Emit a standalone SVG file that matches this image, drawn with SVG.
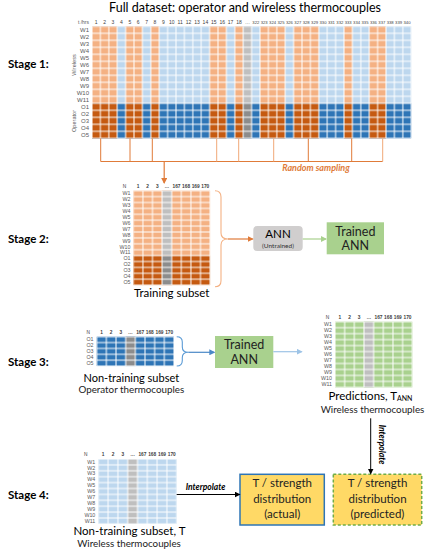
<svg xmlns="http://www.w3.org/2000/svg" width="426" height="550" viewBox="0 0 426 550">
<style>
.stage{font-family:Lato,"Liberation Sans",sans-serif;font-weight:bold;font-size:11.5px;fill:#000}
.title{font-family:Lato,"Liberation Sans",sans-serif;font-size:12.5px;fill:#000}
.lbl{font-family:Lato,"Liberation Sans",sans-serif;font-size:11px;fill:#000}
.sub{font-family:Lato,"Liberation Sans",sans-serif;font-size:9.8px;fill:#222}
.rl{font-family:"Liberation Sans",Arial,sans-serif;font-size:5.6px;fill:#595959;text-anchor:end}
.hd{font-family:"Liberation Sans",Arial,sans-serif;font-size:4.8px;fill:#404040;text-anchor:middle;font-weight:bold}
.rot{font-family:"Liberation Sans",Arial,sans-serif;font-size:5.6px;fill:#595959;text-anchor:middle}
.interp{font-family:Lato,"Liberation Sans",sans-serif;font-size:8.5px;font-weight:bold;font-style:italic;fill:#000}
.box{font-family:Lato,"Liberation Sans",sans-serif;font-size:11.5px;fill:#222;text-anchor:middle}
</style>
<defs>
<pattern id="g1" patternUnits="userSpaceOnUse" x="92" y="26.3" width="8.4" height="7"><path d="M0 0H8.4V7H0Z" fill="none" stroke="#fff" stroke-width="1"/></pattern>
<pattern id="g2" patternUnits="userSpaceOnUse" x="133.3" y="190.7" width="9.6" height="5.9"><path d="M0 0H9.6V5.9H0Z" fill="none" stroke="#fff" stroke-width="1"/></pattern>
<pattern id="g3" patternUnits="userSpaceOnUse" x="96.7" y="336.7" width="9.66" height="5.87"><path d="M0 0H9.66V5.87H0Z" fill="none" stroke="#fff" stroke-width="1"/></pattern>
<pattern id="g4" patternUnits="userSpaceOnUse" x="335" y="321.7" width="9.66" height="5.97"><path d="M0 0H9.66V5.97H0Z" fill="none" stroke="#fff" stroke-width="1"/></pattern>
<pattern id="g5" patternUnits="userSpaceOnUse" x="98.3" y="459" width="9.8" height="5.9"><path d="M0 0H9.8V5.9H0Z" fill="none" stroke="#fff" stroke-width="1"/></pattern>
<marker id="aO" markerWidth="6" markerHeight="6" refX="5" refY="3" orient="auto" markerUnits="userSpaceOnUse"><path d="M0 0L6 3L0 6Z" fill="#E07B39"/></marker>
<marker id="aB" markerWidth="6" markerHeight="6" refX="5" refY="3" orient="auto" markerUnits="userSpaceOnUse"><path d="M0 0L6 3L0 6Z" fill="#4A88C7"/></marker>
<marker id="aLB" markerWidth="6" markerHeight="6" refX="5" refY="3" orient="auto" markerUnits="userSpaceOnUse"><path d="M0 0L6 3L0 6Z" fill="#9DC3E6"/></marker>
<marker id="aG" markerWidth="6" markerHeight="6" refX="5" refY="3" orient="auto" markerUnits="userSpaceOnUse"><path d="M0 0L6 3L0 6Z" fill="#A9D18E"/></marker>
<marker id="aK" markerWidth="6" markerHeight="6" refX="5" refY="3" orient="auto" markerUnits="userSpaceOnUse"><path d="M0 0L6 3L0 6Z" fill="#000"/></marker>
</defs>
<rect width="426" height="550" fill="#fff"/>

<!-- Stage labels -->
<text class="stage" x="8" y="68">Stage 1:</text>
<text class="stage" x="8" y="243">Stage 2:</text>
<text class="stage" x="8" y="366">Stage 3:</text>
<text class="stage" x="8" y="499">Stage 4:</text>

<!-- Stage 1: full dataset -->
<g id="full-dataset">
<text class="title" x="245" y="12" text-anchor="middle">Full dataset: operator and wireless thermocouples</text>
<rect x="92" y="26.3" width="319.2" height="77" fill="#BDD7EE"/>
<rect x="92" y="103.3" width="319.2" height="35" fill="#2E75B6"/>
<g fill="#F4B183">
<rect x="92" y="26.3" width="25.2" height="77"/><rect x="125.6" y="26.3" width="16.8" height="77"/><rect x="150.8" y="26.3" width="8.4" height="77"/><rect x="209.6" y="26.3" width="16.8" height="77"/><rect x="234.8" y="26.3" width="8.4" height="77"/><rect x="260" y="26.3" width="25.2" height="77"/><rect x="293.6" y="26.3" width="25.2" height="77"/><rect x="344" y="26.3" width="8.4" height="77"/><rect x="369.2" y="26.3" width="16.8" height="77"/>
</g>
<g fill="#C55A11">
<rect x="92" y="103.3" width="25.2" height="35"/><rect x="125.6" y="103.3" width="16.8" height="35"/><rect x="150.8" y="103.3" width="8.4" height="35"/><rect x="209.6" y="103.3" width="16.8" height="35"/><rect x="234.8" y="103.3" width="8.4" height="35"/><rect x="260" y="103.3" width="25.2" height="35"/><rect x="293.6" y="103.3" width="25.2" height="35"/><rect x="344" y="103.3" width="8.4" height="35"/><rect x="369.2" y="103.3" width="16.8" height="35"/>
</g>
<rect x="243.2" y="26.3" width="8.4" height="77" fill="#BFBFBF"/>
<rect x="243.2" y="103.3" width="8.4" height="35" fill="#8C8C8C"/>
<rect x="92" y="26.3" width="319.2" height="112" fill="url(#g1)"/>
<text class="rl" x="89" y="23.5" style="font-size:5px">t /hrs</text>
<g class="hd" style="font-weight:normal;font-size:5px">
<text x="96.2" y="23.5">1</text><text x="104.6" y="23.5">2</text><text x="113" y="23.5">3</text><text x="121.4" y="23.5">4</text><text x="129.8" y="23.5">5</text><text x="138.2" y="23.5">6</text><text x="146.6" y="23.5">7</text><text x="155" y="23.5">8</text><text x="163.4" y="23.5">9</text><text x="171.8" y="23.5">10</text><text x="180.2" y="23.5">11</text><text x="188.6" y="23.5">12</text><text x="197" y="23.5">13</text><text x="205.4" y="23.5">14</text><text x="213.8" y="23.5">15</text><text x="222.2" y="23.5">16</text><text x="230.6" y="23.5">17</text><text x="239" y="23.5">18</text><text x="247.4" y="23.5">…</text>
</g>
<g class="hd" style="font-weight:normal;font-size:4.2px">
<text x="255.8" y="23.5">322</text><text x="264.2" y="23.5">323</text><text x="272.6" y="23.5">324</text><text x="281" y="23.5">325</text><text x="289.4" y="23.5">326</text><text x="297.8" y="23.5">327</text><text x="306.2" y="23.5">328</text><text x="314.6" y="23.5">329</text><text x="323" y="23.5">330</text><text x="331.4" y="23.5">331</text><text x="339.8" y="23.5">332</text><text x="348.2" y="23.5">333</text><text x="356.6" y="23.5">334</text><text x="365" y="23.5">335</text><text x="373.4" y="23.5">336</text><text x="381.8" y="23.5">337</text><text x="390.2" y="23.5">338</text><text x="398.6" y="23.5">339</text><text x="407" y="23.5">340</text>
</g>
<g class="rl" style="font-size:6px">
<text x="89" y="31.8">W1</text><text x="89" y="38.8">W2</text><text x="89" y="45.8">W3</text><text x="89" y="52.8">W4</text><text x="89" y="59.8">W5</text><text x="89" y="66.8">W6</text><text x="89" y="73.8">W7</text><text x="89" y="80.8">W8</text><text x="89" y="87.8">W9</text><text x="89" y="94.8">W10</text><text x="89" y="101.8">W11</text><text x="89" y="108.8">O1</text><text x="89" y="115.8">O2</text><text x="89" y="122.8">O3</text><text x="89" y="129.8">O4</text><text x="89" y="136.8">O5</text>
</g>
<text class="rot" transform="translate(76 65) rotate(-90)">Wireless</text>
<text class="rot" transform="translate(76 121) rotate(-90)">Operator</text>
</g>

<!-- Stage 2 -->
<g id="training-subset">
<rect x="133.3" y="190.7" width="76.8" height="64.9" fill="#F4B183"/>
<rect x="133.3" y="255.6" width="76.8" height="29.5" fill="#C55A11"/>
<rect x="162.1" y="190.7" width="9.6" height="64.9" fill="#BFBFBF"/>
<rect x="162.1" y="255.6" width="9.6" height="29.5" fill="#8C8C8C"/>
<rect x="133.3" y="190.7" width="76.8" height="94.4" fill="url(#g2)"/>
<g class="hd">
<text x="124.5" y="188.3" style="font-weight:normal">N</text><text x="138.1" y="188.3">1</text><text x="147.7" y="188.3">2</text><text x="157.3" y="188.3">3</text><text x="166.9" y="188.3">…</text><text x="176.5" y="188.3">167</text><text x="186.1" y="188.3">168</text><text x="195.7" y="188.3">169</text><text x="205.3" y="188.3">170</text>
</g>
<g class="rl" style="font-size:5.3px">
<text x="130.5" y="195.4">W1</text><text x="130.5" y="201.3">W2</text><text x="130.5" y="207.2">W3</text><text x="130.5" y="213.1">W4</text><text x="130.5" y="219">W5</text><text x="130.5" y="224.9">W6</text><text x="130.5" y="230.8">W7</text><text x="130.5" y="236.7">W8</text><text x="130.5" y="242.6">W9</text><text x="130.5" y="248.5">W10</text><text x="130.5" y="254.4">W11</text><text x="130.5" y="260.3">O1</text><text x="130.5" y="266.2">O2</text><text x="130.5" y="272.1">O3</text><text x="130.5" y="278">O4</text><text x="130.5" y="283.9">O5</text>
</g>
<text class="lbl" x="171.7" y="297" text-anchor="middle" style="font-size:11.5px">Training subset</text>
</g>

<g id="ann-untrained">
<rect x="253.3" y="226" width="49.4" height="25" rx="4" fill="#D0CECE"/>
<text x="278" y="238" text-anchor="middle" style="font-family:Lato,'Liberation Sans',sans-serif;font-size:11.5px">ANN</text>
<text x="278" y="248.3" text-anchor="middle" style="font-family:Lato,'Liberation Sans',sans-serif;font-size:6.5px;fill:#333">(Untrained)</text>
</g>

<g id="trained-ann-2">
<rect x="326.7" y="222.3" width="57.3" height="32" fill="#A9D18E"/>
<text class="box" x="355.3" y="235.5" style="font-size:12.5px">Trained</text>
<text class="box" x="355.3" y="250" style="font-size:12.5px">ANN</text>
</g>

<!-- Stage 3 -->
<g id="non-training-operator">
<rect x="96.7" y="336.7" width="77.3" height="29.35" fill="#2E75B6"/>
<rect x="125.7" y="336.7" width="9.66" height="29.35" fill="#8C8C8C"/>
<rect x="96.7" y="336.7" width="77.3" height="29.35" fill="url(#g3)"/>
<g class="hd">
<text x="88.3" y="334.3" style="font-weight:normal">N</text><text x="101.5" y="334.3">1</text><text x="111.2" y="334.3">2</text><text x="120.8" y="334.3">3</text><text x="130.5" y="334.3">…</text><text x="140.2" y="334.3">167</text><text x="149.8" y="334.3">168</text><text x="159.5" y="334.3">169</text><text x="169.2" y="334.3">170</text>
</g>
<g class="rl" style="font-size:5.3px">
<text x="93.5" y="341.3">O1</text><text x="93.5" y="347.2">O2</text><text x="93.5" y="353.1">O3</text><text x="93.5" y="358.9">O4</text><text x="93.5" y="364.8">O5</text>
</g>
<text class="lbl" x="131.3" y="381.5" text-anchor="middle">Non-training subset</text>
<text class="sub" x="131.3" y="392.5" text-anchor="middle">Operator thermocouples</text>
</g>

<g id="trained-ann-3">
<rect x="215" y="336" width="58.3" height="32" fill="#A9D18E"/>
<text class="box" x="244.2" y="349.3" style="font-size:12.5px">Trained</text>
<text class="box" x="244.2" y="364" style="font-size:12.5px">ANN</text>
</g>

<g id="predictions">
<rect x="335" y="321.7" width="77.3" height="65.7" fill="#A9D18E"/>
<rect x="363.98" y="321.7" width="9.66" height="65.7" fill="#BFBFBF"/>
<rect x="335" y="321.7" width="77.3" height="65.7" fill="url(#g4)"/>
<g class="hd">
<text x="327.5" y="319.3" style="font-weight:normal">N</text><text x="339.8" y="319.3">1</text><text x="349.5" y="319.3">2</text><text x="359.2" y="319.3">3</text><text x="368.8" y="319.3">…</text><text x="378.5" y="319.3">167</text><text x="388.1" y="319.3">168</text><text x="397.8" y="319.3">169</text><text x="407.5" y="319.3">170</text>
</g>
<g class="rl" style="font-size:5.3px">
<text x="332" y="326.4">W1</text><text x="332" y="332.3">W2</text><text x="332" y="338.3">W3</text><text x="332" y="344.3">W4</text><text x="332" y="350.3">W5</text><text x="332" y="356.3">W6</text><text x="332" y="362.2">W7</text><text x="332" y="368.2">W8</text><text x="332" y="374.2">W9</text><text x="332" y="380.1">W10</text><text x="332" y="386.1">W11</text>
</g>
<text class="lbl" x="370.5" y="399.5" text-anchor="middle" style="font-size:11.5px">Predictions, T<tspan style="font-size:7px" dy="1.5">ANN</tspan></text>
<text class="sub" x="372.5" y="412.5" text-anchor="middle">Wireless thermocouples</text>
</g>

<!-- Stage 4 -->
<g id="non-training-wireless">
<rect x="98.3" y="459" width="78.4" height="64.9" fill="#BDD7EE"/>
<rect x="127.7" y="459" width="9.8" height="64.9" fill="#BFBFBF"/>
<rect x="98.3" y="459" width="78.4" height="64.9" fill="url(#g5)"/>
<g class="hd">
<text x="85.8" y="456.3" style="font-weight:normal">N</text><text x="103.2" y="456.3">1</text><text x="113" y="456.3">2</text><text x="122.8" y="456.3">3</text><text x="132.6" y="456.3">…</text><text x="142.4" y="456.3">167</text><text x="152.2" y="456.3">168</text><text x="162" y="456.3">169</text><text x="171.8" y="456.3">170</text>
</g>
<g class="rl" style="font-size:5.3px">
<text x="95.3" y="463.6">W1</text><text x="95.3" y="469.5">W2</text><text x="95.3" y="475.4">W3</text><text x="95.3" y="481.3">W4</text><text x="95.3" y="487.2">W5</text><text x="95.3" y="493.1">W6</text><text x="95.3" y="499">W7</text><text x="95.3" y="504.9">W8</text><text x="95.3" y="510.8">W9</text><text x="95.3" y="516.7">W10</text><text x="95.3" y="522.6">W11</text>
</g>
<text class="lbl" x="129.5" y="535" text-anchor="middle" style="font-size:11.5px">Non-training subset, T</text>
<text class="sub" x="129" y="547" text-anchor="middle">Wireless thermocouples</text>
</g>

<g id="dist-actual">
<rect x="240" y="474.3" width="84.3" height="50.7" fill="#FFD966" stroke="#2E75B6" stroke-width="1.5"/>
<text class="box" x="282.2" y="487">T / strength</text>
<text class="box" x="282.2" y="502.5">distribution</text>
<text class="box" x="282.2" y="518">(actual)</text>
</g>

<g id="dist-predicted">
<rect x="333.3" y="474.3" width="88.4" height="50.7" fill="#FFD966" stroke="#70AD47" stroke-width="1.5" stroke-dasharray="3 2"/>
<text class="box" x="377.5" y="487">T / strength</text>
<text class="box" x="377.5" y="502.5">distribution</text>
<text class="box" x="377.5" y="518">(predicted)</text>
</g>

<!-- Connectors -->
<g id="connectors" fill="none">
<path d="M100.7 138.5V161.5M130 138.5V161.5M152.3 138.5V161.5M308.3 138.5V161.5M351.7 138.5V161.5M100.7 161.5H382.7" stroke="#E07B39" stroke-width="1"/>
<path d="M216.7 138.5V161.5M238.7 138.5V161.5M273.7 138.5V161.5M382.7 138.5V161.5" stroke="#F0A878" stroke-width="1"/>
<path d="M164.2 161.5V183" stroke="#E07B39" stroke-width="1.2" marker-end="url(#aO)"/>
<text x="316" y="171" text-anchor="middle" style="font-family:Lato,'Liberation Sans',sans-serif;font-size:9px;font-weight:bold;font-style:italic;fill:#E07B39">Random sampling</text>
<path d="M215 190.7C219 190.7 221 193 221 197V233C221 237 223 239 228 239C223 239 221 241 221 245V280.7C221 284.7 219 286.7 215 286.7" stroke="#F4B183" stroke-width="1.1"/>
<path d="M228 239H252.7" stroke="#E07B39" stroke-width="1.2" marker-end="url(#aO)"/>
<path d="M302.7 239H326" stroke="#A9D18E" stroke-width="1.2" marker-end="url(#aG)"/>
<path d="M176.7 336.7C180 336.7 182.3 338.5 182.3 342V347C182.3 350.5 184 352.3 188.3 352.3C184 352.3 182.3 354.1 182.3 357.6V360.5C182.3 364 180 366 176.7 366" stroke="#5B9BD5" stroke-width="1.1"/>
<path d="M188.3 352.3H214.3" stroke="#4A88C7" stroke-width="1.2" marker-end="url(#aB)"/>
<path d="M273.3 351.7H301.7" stroke="#9DC3E6" stroke-width="1.2" marker-end="url(#aLB)"/>
<path d="M370.7 418.3V473.5" stroke="#000" stroke-width="1" marker-end="url(#aK)"/>
<text class="interp" transform="translate(378.5 444.5) rotate(90)" text-anchor="middle">Interpolate</text>
<path d="M176.7 494.5H239.5" stroke="#000" stroke-width="1" marker-end="url(#aK)"/>
<text class="interp" x="205.5" y="490" text-anchor="middle">Interpolate</text>
</g>
</svg>
